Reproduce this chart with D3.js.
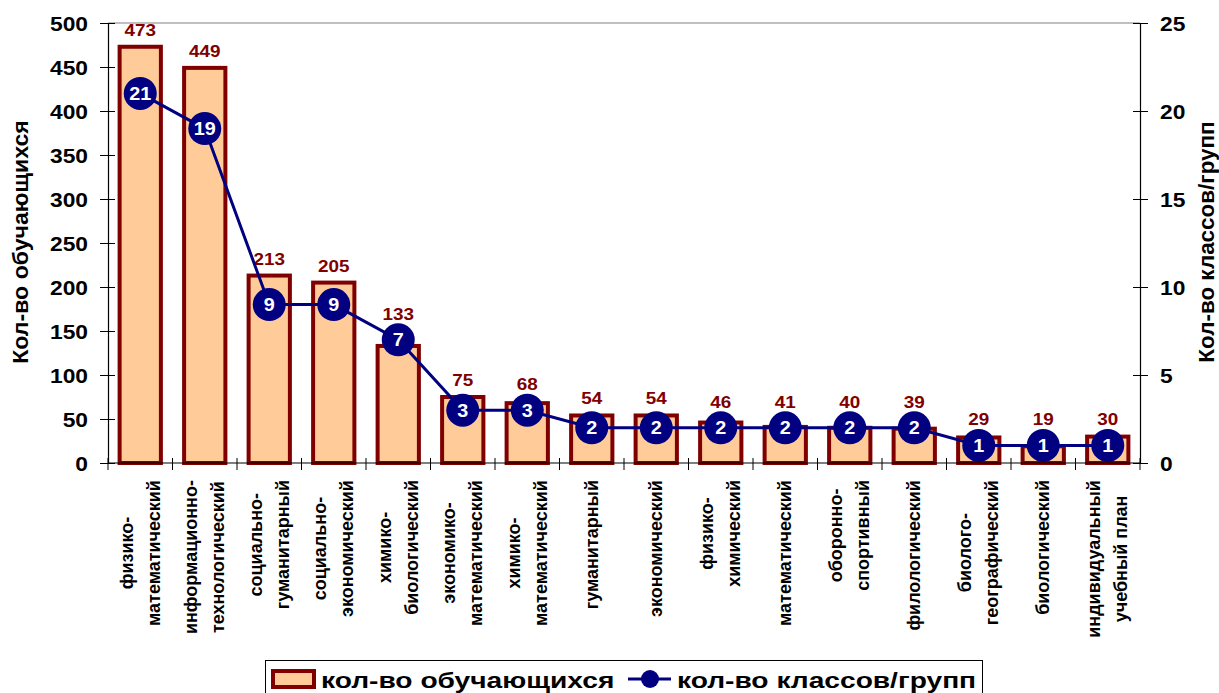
<!DOCTYPE html>
<html><head><meta charset="utf-8">
<script src="https://cdn.jsdelivr.net/npm/d3@7"></script>
<style>
body{margin:0;background:#fff;}
svg{display:block;font-family:"Liberation Sans",Arial,sans-serif;font-weight:bold;}
</style></head>
<body><svg id="c" width="1219" height="693"></svg>
<script>
const categories = [
  ["физико-","математический"],
  ["информационно-","технологический"],
  ["социально-","гуманитарный"],
  ["социально-","экономический"],
  ["химико-","биологический"],
  ["экономико-","математический"],
  ["химико-","математический"],
  ["гуманитарный"],
  ["экономический"],
  ["физико-","химический"],
  ["математический"],
  ["оборонно-","спортивный"],
  ["филологический"],
  ["биолого-","географический"],
  ["биологический"],
  ["индивидуальный","учебный план"]
];
const students = [473,449,213,205,133,75,68,54,54,46,41,40,39,29,19,30];
const groups   = [21,19,9,9,7,3,3,2,2,2,2,2,2,1,1,1];
const leftTicks = [0,50,100,150,200,250,300,350,400,450,500];
const rightTicks = [0,5,10,15,20,25];
const seriesNames = ["кол-во обучающихся","кол-во классов/групп"];
const axisTitles = ["Кол-во обучающихся","Кол-во классов/групп"];

const svg = d3.select("#c");
const L=108, R=1140, T=23, B=463;
const idx = d3.range(categories.length);
const x = d3.scaleBand().domain(idx).range([L,R]).padding(0);
const yL = d3.scaleLinear().domain([0,500]).range([B,T]);
const yR = d3.scaleLinear().domain([0,25]).range([B,T]);
const SX = 1.14; // horizontal stretch of reference text
const cx = i => x(i)+x.bandwidth()/2;

// top border of plot area
svg.append("line").attr("x1",L).attr("x2",R).attr("y1",T).attr("y2",T).attr("stroke","#808080").attr("stroke-width",1);

// bars
const bw = x.bandwidth()*0.64;
svg.append("g").selectAll("rect").data(idx).join("rect")
  .attr("x",i=>cx(i)-bw/2)
  .attr("y",i=>yL(students[i]))
  .attr("width",bw)
  .attr("height",i=>B-yL(students[i]))
  .attr("fill","#FFCC99").attr("stroke","#800000").attr("stroke-width",4);

// left axis
const gl = svg.append("g").attr("transform",`translate(${L},0)`)
  .call(d3.axisLeft(yL).tickValues(leftTicks).tickSize(0).tickPadding(0));
gl.select(".domain").attr("stroke","#000").attr("stroke-width",1.2);
gl.selectAll(".tick line").remove();
gl.selectAll(".tick").append("line").attr("x1",-8).attr("x2",7).attr("stroke","#000");
gl.selectAll(".tick text").attr("x",0).attr("font-size",20).attr("font-weight","bold")
  .attr("font-family","Liberation Sans").attr("fill","#000")
  .attr("text-anchor","end").attr("transform",`translate(-20,0) scale(${SX},1)`).attr("dy","0.36em");

// right axis
const gr = svg.append("g").attr("transform",`translate(${R},0)`)
  .call(d3.axisRight(yR).tickValues(rightTicks).tickSize(0).tickPadding(0));
gr.select(".domain").attr("stroke","#000").attr("stroke-width",1.2);
gr.selectAll(".tick line").remove();
gr.selectAll(".tick").append("line").attr("x1",-7).attr("x2",8).attr("stroke","#000");
gr.selectAll(".tick text").attr("x",0).attr("font-size",20).attr("font-weight","bold")
  .attr("font-family","Liberation Sans").attr("fill","#000")
  .attr("text-anchor","start").attr("transform",`translate(20,0) scale(${SX},1)`).attr("dy","0.36em");

// bottom axis line + ticks at band boundaries
svg.append("line").attr("x1",L).attr("x2",R).attr("y1",B).attr("y2",B).attr("stroke","#000").attr("stroke-width",1.2);
const bounds = idx.map(i=>x(i)).concat([R]);
svg.append("g").selectAll("line").data(bounds).join("line")
  .attr("x1",d=>d).attr("x2",d=>d).attr("y1",B-5).attr("y2",B+7).attr("stroke","#000");

// category labels (rotated)
const lab = svg.append("g");
idx.forEach(i=>{
  const lines = categories[i];
  const lh = 27;
  const g = lab.append("g");
  const texts = lines.map(t=> g.append("text").text(t)
      .attr("font-size",18).attr("font-weight","bold").attr("fill","#000")
      .attr("text-anchor","middle"));
  const maxLen = d3.max(texts, t=>t.node().getComputedTextLength());
  const cy = 480 + maxLen/2;
  texts.forEach((t,k)=>{
    const off = (k-(lines.length-1)/2)*lh;
    t.attr("transform",`translate(${cx(i)+off+6},${cy}) rotate(-90) scale(1,1.05)`);
  });
});

// value labels (kept above the bar and above the marker)
svg.append("g").selectAll("text").data(idx).join("text")
  .attr("transform",i=>`translate(${cx(i)},${Math.min(yL(students[i])-11, yR(groups[i])-20)}) scale(1.18,1)`)
  .attr("text-anchor","middle").attr("font-size",16).attr("font-weight","bold").attr("fill","#800000")
  .text(i=>students[i]);

// line
const line = d3.line().x(i=>cx(i)).y(i=>yR(groups[i]));
svg.append("path").datum(idx).attr("d",line).attr("fill","none").attr("stroke","#000080").attr("stroke-width",3);
const mk = svg.append("g").selectAll("g").data(idx).join("g")
  .attr("transform",i=>`translate(${cx(i)},${yR(groups[i])})`);
mk.append("circle").attr("r",16.5).attr("fill","#000080");
mk.append("text").attr("text-anchor","middle").attr("dy","0.36em").attr("font-size",18)
  .attr("transform","scale(1.1,1)")
  .attr("font-weight","bold").attr("fill","#fff").text(i=>groups[i]);

// axis titles
svg.append("text").attr("transform",`translate(28,242) rotate(-90) scale(1.05,1)`)
  .attr("text-anchor","middle").attr("font-size",22).attr("font-weight","bold").text(axisTitles[0]);
svg.append("text").attr("transform",`translate(1214,242) rotate(-90) scale(1.02,1)`)
  .attr("text-anchor","middle").attr("font-size",22).attr("font-weight","bold").text(axisTitles[1]);

// legend
const lg = svg.append("g");
lg.append("rect").attr("x",265.5).attr("y",660.5).attr("width",717).attr("height",40).attr("fill","#fff").attr("stroke","#000").attr("stroke-width",1);
lg.append("rect").attr("x",273).attr("y",671).attr("width",41).attr("height",16).attr("fill","#FFCC99").attr("stroke","#800000").attr("stroke-width",4);
lg.append("text").attr("transform",`translate(321,688) scale(1.28,1)`).attr("font-size",22).attr("font-weight","bold").text(seriesNames[0]);
lg.append("line").attr("x1",628).attr("x2",671).attr("y1",679).attr("y2",679).attr("stroke","#000080").attr("stroke-width",3);
lg.append("circle").attr("cx",650).attr("cy",679).attr("r",9).attr("fill","#000080");
lg.append("text").attr("transform",`translate(677,688) scale(1.28,1)`).attr("font-size",22).attr("font-weight","bold").text(seriesNames[1]);
</script></body></html>
